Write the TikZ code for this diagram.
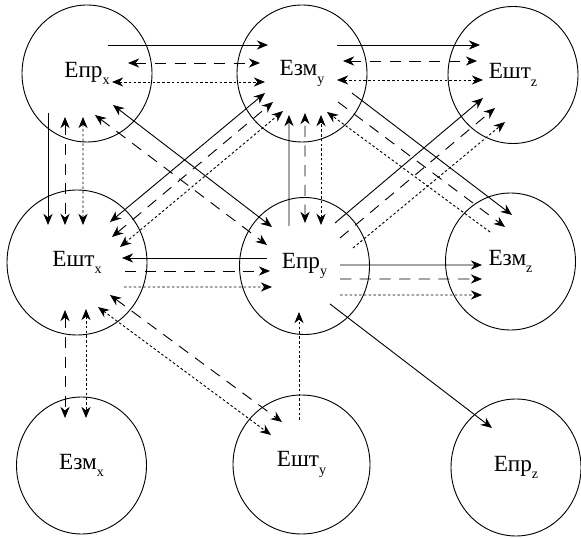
\documentclass[tikz,border=0pt]{standalone}
\usepackage{fontspec}
\setmainfont{Liberation Serif}
\usetikzlibrary{arrows.meta,shapes.geometric}

\newcommand{\lowidx}[1]{\raisebox{-5.5pt}{\fontsize{10}{10}\selectfont #1}}

\begin{document}
\begin{tikzpicture}[
		>={Stealth[length=2.8mm,width=2.3mm]},
		line width=0.65pt,
		energy/.style={ellipse, draw, inner sep=0pt, minimum width=3.25cm, minimum height=3.425cm, font=\fontsize{16.5}{19}\selectfont},
		dsh/.style={dash pattern=on 8pt off 6pt},
		dts/.style={dash pattern=on 1.8pt off 1.6pt}
	]
		\useasboundingbox (0,0) rectangle (14.525,13.45);

		\draw (2.175,11.6125) node[energy] (eprx) {Епр\lowidx{x}};
		\draw (7.55,11.6125) node[energy] (ezmy) {Езм\lowidx{y}};
		\draw (12.825,11.575) node[energy] (eshtz) {Ешт\lowidx{z}};

		\draw (1.925,6.8875) node[energy, minimum width=3.5cm, minimum height=3.625cm] (eshtx) {Ешт\lowidx{x}};
		\draw (7.6125,6.8) node[energy] (epry) {Епр\lowidx{y}};
		\draw (12.7625,6.9125) node[energy] (ezmz) {Езм\lowidx{z}};

		\draw (2.0375,1.8125) node[energy] (ezmx) {Езм\lowidx{x}};
		\draw (7.5375,1.8375) node[energy, minimum width=3.425cm, minimum height=3.475cm] (eshty) {Ешт\lowidx{y}};
		\draw (12.9,1.7625) node[energy] (eprz) {Епр\lowidx{z}};

		% top row
		\draw [->] ([shift={(0.525,0.7125)}]eprx.center) -- ([shift={(-0.85,0.7125)}]ezmy.center);
		\draw [<->, dsh] ([shift={(1.025,0.2625)}]eprx.center) -- ([shift={(-1.05,0.2625)}]ezmy.center);
		\draw [<->, dts] ([shift={(0.625,-0.2125)}]eprx.center) -- ([shift={(-0.925,-0.2125)}]ezmy.center);

		\draw [->] ([shift={(0.875,0.7125)}]ezmy.center) -- ([shift={(-0.825,0.75)}]eshtz.center);
		\draw [<->, dsh] ([shift={(1.025,0.3125)}]ezmy.center) -- ([shift={(-0.9,0.35)}]eshtz.center);
		\draw [<->, dts] ([shift={(0.875,-0.1625)}]ezmy.center) -- ([shift={(-0.75,-0.125)}]eshtz.center);

		% left column
		\draw [->] ([shift={(-0.975,-0.9875)}]eprx.center) -- ([shift={(-0.725,0.9375)}]eshtx.center);
		\draw [<->, dsh] ([shift={(-0.55,-1.0875)}]eprx.center) -- ([shift={(-0.3,0.9375)}]eshtx.center);
		\draw [<->, dts] ([shift={(-0.1,-1.0875)}]eprx.center) -- ([shift={(0.15,0.9375)}]eshtx.center);

		\draw [<->, dsh] ([shift={(-0.3,-1.1875)}]eshtx.center) -- ([shift={(-0.4125,1.1875)}]ezmx.center);
		\draw [<->, dts] ([shift={(0.225,-1.1625)}]eshtx.center) -- ([shift={(0.1125,1.1875)}]ezmx.center);

		% middle row
		\draw [->] ([shift={(-0.9375,0.2)}]epry.center) -- ([shift={(1.125,0.1125)}]eshtx.center);
		\draw [->, dsh] ([shift={(1.2,-0.2125)}]eshtx.center) -- ([shift={(-0.8625,-0.125)}]epry.center);
		\draw [->, dts] ([shift={(1.175,-0.6125)}]eshtx.center) -- ([shift={(-0.8125,-0.525)}]epry.center);

		\draw [->] ([shift={(0.8875,0.025)}]epry.center) -- ([shift={(-0.7125,-0.0875)}]ezmz.center);
		\draw [->, dsh] ([shift={(0.8875,-0.325)}]epry.center) -- ([shift={(-0.7125,-0.4375)}]ezmz.center);
		\draw [->, dts] ([shift={(0.8875,-0.725)}]epry.center) -- ([shift={(-0.7125,-0.8375)}]ezmz.center);

		% lower part
		\draw [->] ([shift={(0.6375,-0.95)}]epry.center) -- ([shift={(-0.6,0.9875)}]eprz.center);
		\draw [->, dts] ([shift={(-0.0625,1.1125)}]eshty.center) -- ([shift={(-0.1375,-1.15)}]epry.center);
		\draw [<->, dsh] ([shift={(0.825,-0.8125)}]eshtx.center) -- ([shift={(-0.4875,1.0625)}]eshty.center);
		\draw [<->, dts] ([shift={(0.525,-1.1125)}]eshtx.center) -- ([shift={(-0.7625,0.7375)}]eshty.center);

		% diagonals on the left
		\draw [<->] ([shift={(0.65,-0.7875)}]eprx.center) -- ([shift={(-0.8125,0.975)}]epry.center);
		\draw [<->, dsh] ([shift={(0.2,-1.0375)}]eprx.center) -- ([shift={(-0.9375,0.525)}]epry.center);

		\draw [<->] ([shift={(0.825,1.0125)}]eshtx.center) -- ([shift={(-0.925,-0.4875)}]ezmy.center);
		\draw [<->, dsh] ([shift={(0.875,0.6375)}]eshtx.center) -- ([shift={(-0.725,-0.7125)}]ezmy.center);
		\draw [<->, dts] ([shift={(1.075,0.3875)}]eshtx.center) -- ([shift={(-0.475,-0.9375)}]ezmy.center);

		% middle column
		\draw [->] ([shift={(-0.3875,1.0)}]epry.center) -- ([shift={(-0.325,-1.0375)}]ezmy.center);
		\draw [<->, dsh] ([shift={(0.0125,1.075)}]epry.center) -- ([shift={(0.075,-0.9875)}]ezmy.center);
		\draw [<->, dts] ([shift={(0.4125,1.025)}]epry.center) -- ([shift={(0.475,-1.0375)}]ezmy.center);

		% diagonals on the right
		\draw [->] ([shift={(1.25,-0.4875)}]ezmy.center) -- ([shift={(0.0375,1.1625)}]ezmz.center);
		\draw [->, dsh] ([shift={(0.9,-0.7125)}]ezmy.center) -- ([shift={(-0.1375,0.8625)}]ezmz.center);
		\draw [->, dts] ([shift={(-0.5125,0.7375)}]ezmz.center) -- ([shift={(0.625,-0.9625)}]ezmy.center);

		\draw [->] ([shift={(0.7625,1.075)}]epry.center) -- ([shift={(-0.75,-0.575)}]eshtz.center);
		\draw [->, dsh] ([shift={(0.8875,0.7)}]epry.center) -- ([shift={(-0.45,-0.825)}]eshtz.center);
		\draw [->, dts] ([shift={(1.2125,0.45)}]epry.center) -- ([shift={(-0.2,-1.175)}]eshtz.center);
	\end{tikzpicture}
\end{document}
